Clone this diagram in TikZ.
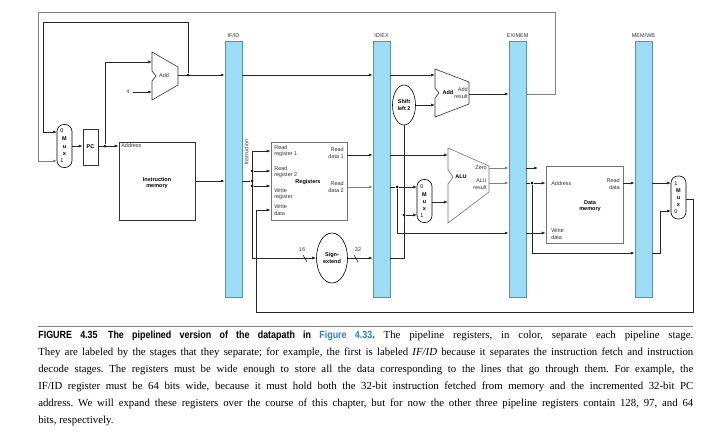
\documentclass[tikz,border=0pt]{standalone}
\usepackage{fontspec}
\setmainfont{Liberation Serif}
\newfontfamily\dsans{Liberation Sans}
\newfontfamily\dsanscond{Liberation Sans}[FakeStretch=0.86]
\usetikzlibrary{arrows.meta,calc,shapes.geometric}
\definecolor{pipe}{HTML}{9DDCF5}
\definecolor{pipeb}{HTML}{5A8FB0}
\definecolor{figblue}{HTML}{1E88C8}
\begin{document}
\frenchspacing
\begin{tikzpicture}[x=1pt,y=-1pt, line width=0.6pt,
 wire/.style={draw=black!85},
 arr/.style={wire,-{Latex[length=4pt,width=3pt]}},
 garr/.style={arr,draw=black!50},
 dot/.style={circle,fill,inner sep=0pt,minimum size=3pt},
 lbl/.style={font=\dsans\fontsize{5.5}{6.6}\selectfont,inner sep=0pt,align=left,text=black!80},
 blbl/.style={font=\dsans\bfseries\fontsize{5.5}{6.6}\selectfont,inner sep=0pt,align=center},
 bar/.style={draw=pipeb,fill=pipe,line width=0.5pt,minimum width=17pt,minimum height=256pt,inner sep=0pt},
 box/.style={draw=black!80,fill=white,inner sep=0pt},
 mux/.style={draw,rounded corners=7pt,minimum width=15pt,minimum height=43pt,inner sep=0pt},
 muxl/.style={font=\dsans\fontsize{5.5}{6.6}\selectfont,inner sep=0pt,align=center},
 muxb/.style={muxl,font=\dsans\bfseries\fontsize{5.5}{6.6}\selectfont}]
\useasboundingbox (0,0) rectangle (727,442);
% pipeline registers
\node[bar] (ifid) at (233.5,169) {};
\node[bar] (idex) at (381.5,169) {};
\node[bar] (exmem) at (517.5,169) {};
\node[bar] (memwb) at (643.5,169) {};
\node[lbl,anchor=south] at (ifid.north) [yshift=3pt] {IF/ID};
\node[lbl,anchor=south] at (idex.north) [yshift=3pt] {ID/EX};
\node[lbl,anchor=south] at (exmem.north) [yshift=3pt] {EX/MEM};
\node[lbl,anchor=south] at (memwb.north) [yshift=3pt] {MEM/WB};
% IF stage
\node[mux] (m1) at (64.5,146) {};
\node[muxl] at (62,131) {0};
\node[muxb] at (64.5,139) {M};
\node[muxb] at (64.5,147) {u};
\node[muxb] at (64.5,154) {x};
\node[muxl] at (62,161) {1};
\node[box,minimum width=15pt,minimum height=36pt,font=\dsans\bfseries\fontsize{5.5}{6.6}\selectfont] (pc) at (90.5,147) {PC};
\node[box,minimum width=76pt,minimum height=78pt] (im) at (157,181) {};
\node[lbl,anchor=west] at (121,146) {Address};
\node[blbl] at (157,183) {Instruction\\memory};
\draw[draw=black!80] (152,52) -- (178,67) -- (178,85) -- (152,100) -- (152,81) -- (156,76) -- (152,71) -- cycle;
\node[lbl] (add1) at (164,76) {Add};
\coordinate (a1o) at (178,75);
\coordinate (a1i1) at (152,62);
\coordinate (a1i2) at (152,92);
\node[lbl] (four) at (128,92) {4};
\node[dot] (d1) at (188,75) {};
\node[dot] (d2) at (105,146) {};
\draw[arr] (a1o) -- (ifid.west |- a1o);
\draw[arr] (d1) -- (188,22) -- (43,22) -- (43,132) -- (57,132);
\draw[garr] (exmem.east |- 0,94) -- (555,94) -- (555,12) -- (38,12) -- (38,161) -- (57,161);
\draw[arr] (72,146) -- (pc.west |- 0,146);
\draw[arr] (pc.east |- 0,146) -- (im.west |- 0,146);
\draw[arr] (d2) |- (a1i1);
\draw[arr] ([xshift=3pt]four.east) -- (a1i2);
\draw[arr] (im.east) -- (ifid.west |- im.east);
% ID stage
\draw[arr] (ifid.east |- 0,75) -- (idex.west |- 0,75);
\node[lbl,rotate=90] at (246.5,152) {Instruction};
\node[dot] (d3) at (252,181) {};
\node[dot] (d4) at (252,171) {};
\node[dot] (d5) at (252,186) {};
\draw[wire] (ifid.east |- d3) -- (d3);
\node[box,draw=black!55,minimum width=76pt,minimum height=78pt] (reg) at (309,181) {};
\draw[wire] (252,151) -- (252,258);
\draw[arr] (252,151) -- (reg.west |- 0,151);
\draw[arr] (d4) -- (reg.west |- d4);
\draw[arr] (d5) -- (reg.west |- d5);
\node[lbl,anchor=west] at (274,151) {Read\\register 1};
\node[lbl,anchor=west] at (274,172) {Read\\register 2};
\node[lbl,anchor=west] at (274,194) {Write\\register};
\node[lbl,anchor=west] at (274,210) {Write\\data};
\node[blbl] at (308,182) {Registers};
\node[lbl,anchor=east,align=right] at (344,153) {Read\\data 1};
\node[lbl,anchor=east,align=right] at (344,187) {Read\\data 2};
\node[ellipse,draw,minimum width=31pt,minimum height=50pt,inner sep=0pt,fill=white] (se) at (332,258) {};
\node[blbl] at (332,258) {Sign-\\extend};
\draw[arr] (252,258) -- (se.west);
\draw[wire] (303,255) -- (307,262);
\node[lbl] at (302,250) {16};
\draw[arr] (se.east) -- (idex.west |- se.east);
\draw[wire] (354,255) -- (358,262);
\node[lbl] at (358,250) {32};
\draw[arr] (reg.east |- 0,155) -- (idex.west |- 0,155);
\draw[garr] (reg.east |- 0,187) -- (idex.west |- 0,187);
% EX stage
\draw[arr] (idex.east |- 0,75) -- (435,75);
\draw[draw=black!80] (435,69) -- (469,82) -- (469,104) -- (435,117) -- (435,98) -- (439,93) -- (435,88) -- cycle;
\node[blbl] (add2) at (448,93) {Add};
\node[lbl,align=right,anchor=east] at (468,93) {Add\\result};
\node[ellipse,draw,minimum width=23pt,minimum height=40pt,inner sep=0pt,fill=white] (sl) at (404,105) {};
\node[blbl] at (404,105) {Shift\\left 2};
\draw[arr] (sl.east) -- (435,105);
\draw[arr] (469,94) -- (exmem.west |- 0,94);
\node[dot] (d6) at (404,215) {};
\draw[wire] (idex.east |- 0,258) -- (404,258) -- (sl.south);
\node[mux] (m2) at (424.5,201) {};
\node[muxl] at (422,187) {0};
\node[muxb] at (424.5,195) {M};
\node[muxb] at (424.5,202) {u};
\node[muxb] at (424.5,209) {x};
\node[muxl] at (422,216) {1};
\draw[arr] (d6) -- (417,215);
\node[dot] (d7) at (397,187) {};
\draw[wire] (idex.east |- d7) -- (d7);
\draw[arr] (d7) -- (417,187);
\draw[arr] (d7) -- (397,233) -- (exmem.west |- 0,233);
\draw[arr] (idex.east |- 0,155) -- (448,155);
\draw[arr] (432,202) -- (448,202);
\draw[draw=black!55] (448,148) -- (489,166) -- (489,192) -- (448,223) -- (448,184) -- (453,177) -- (448,170) -- cycle;
\node[blbl] (alu) at (461,177) {ALU};
\node[lbl,anchor=east] at (487,168) {Zero};
\node[lbl,anchor=east,align=right] at (487,184) {ALU\\result};
\draw[garr] (489,168) -- (exmem.west |- 0,168);
\draw[garr] (489,183) -- (exmem.west |- 0,183);
% MEM stage
\draw[arr] (exmem.east |- 0,168) -- (538,168);
\node[dot] (d8) at (532,183) {};
\node[box,draw=black!55,minimum width=77pt,minimum height=77pt] (dm) at (584.5,204.5) {};
\draw[wire] (exmem.east |- d8) -- (d8);
\draw[arr] (d8) -- (dm.west |- d8);
\draw[arr] (d8) -- (532,253) -- (memwb.west |- 0,253);
\draw[arr] (exmem.east |- 0,233) -- (dm.west |- 0,233);
\node[lbl,anchor=west] at (551,184) {Address};
\node[lbl,anchor=east,align=right] at (620,184) {Read\\data};
\node[blbl] at (590,206) {Data\\memory};
\node[lbl,anchor=west] at (551,234) {Write\\data};
\draw[arr] (dm.east |- 0,183) -- (memwb.west |- 0,183);
% WB stage
\node[mux] (m3) at (678.5,197.5) {};
\node[muxl] at (676,184) {1};
\node[muxb] at (678.5,191) {M};
\node[muxb] at (678.5,198) {u};
\node[muxb] at (678.5,205) {x};
\node[muxl] at (676,212) {0};
\draw[arr] (memwb.east |- 0,183) -- (671,183);
\draw[arr] (memwb.east |- 0,253) -- (660,253) -- (660,211) -- (671,211);
\draw[arr] (686,199) -- (693,199) -- (693,312) -- (256,312) -- (256,210) -- (reg.west |- 0,210);
% caption
\draw[draw=black!50,line width=0.8pt] (38,326) -- (693,326);
\node[anchor=north west,inner sep=0pt,text width=655pt,align=justify,
 font=\fontsize{10.8}{17}\selectfont] (cap) at (38,330.5)
 {{\dsanscond\bfseries\fontsize{10.4}{17}\selectfont FIGURE 4.35\quad The pipelined version of the datapath in \textcolor{figblue}{Figure 4.33}.} The pipeline registers, in color, separate each pipeline stage.\linebreak
 They are labeled by the stages that they separate; for example, the first is labeled \textit{IF/ID} because it separates the instruction fetch and instruction\linebreak
 decode stages. The registers must be wide enough to store all the data corresponding to the lines that go through them. For example, the\linebreak
 IF/ID register must be 64 bits wide, because it must hold both the 32-bit instruction fetched from memory and the incremented 32-bit PC\linebreak
 address. We will expand these registers over the course of this chapter, but for now the other three pipeline registers contain 128, 97, and 64\linebreak
 bits, respectively.};
\end{tikzpicture}
\end{document}
